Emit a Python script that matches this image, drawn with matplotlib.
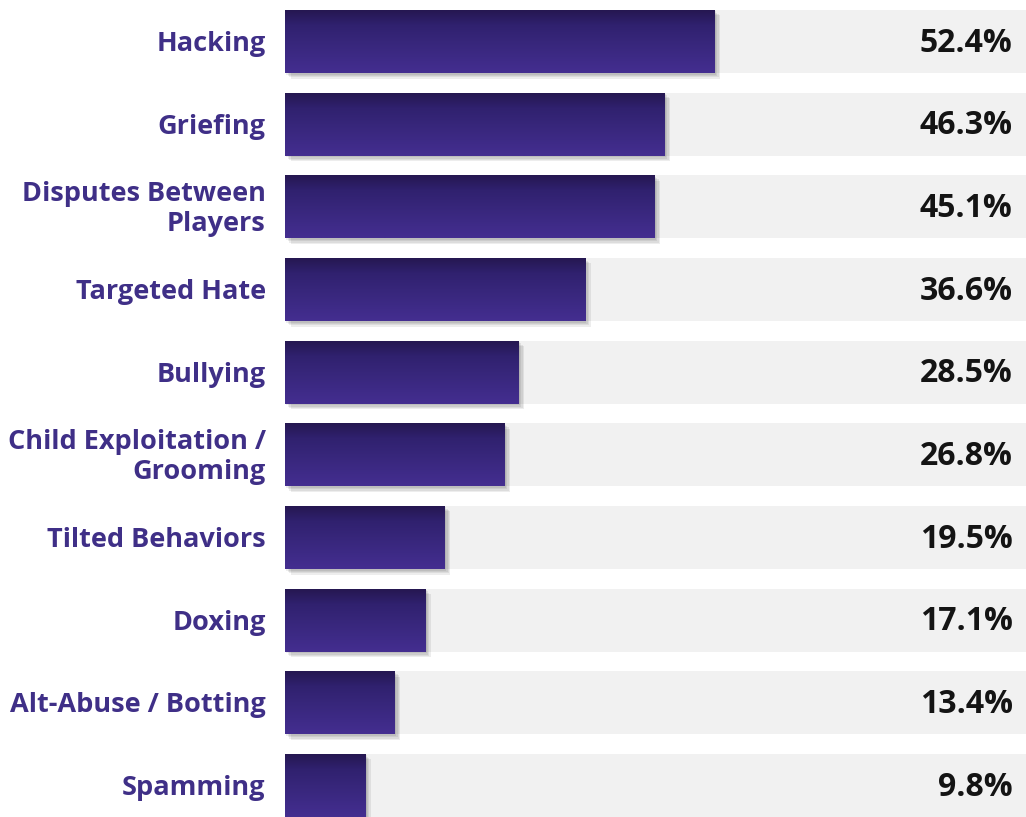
import matplotlib
matplotlib.use("Agg")
import matplotlib.pyplot as plt
import matplotlib.patheffects as pe
import numpy as np
from matplotlib.colors import LinearSegmentedColormap
from matplotlib.patches import Rectangle
from matplotlib.transforms import blended_transform_factory

categories = [
    "Hacking",
    "Griefing",
    "Disputes Between\nPlayers",
    "Targeted Hate",
    "Bullying",
    "Child Exploitation /\nGrooming",
    "Tilted Behaviors",
    "Doxing",
    "Alt-Abuse / Botting",
    "Spamming",
]
values = [52.4, 46.3, 45.1, 36.6, 28.5, 26.8, 19.5, 17.1, 13.4, 9.8]
value_labels = ["52.4%", "46.3%", "45.1%", "36.6%", "28.5%", "26.8%", "19.5%", "17.1%", "13.4%", "9.8%"]

plt.rcParams["font.family"] = ["Open Sans", "DejaVu Sans"]

W, H = 1026, 817
fig = plt.figure(figsize=(W / 100, H / 100), dpi=100)
ax = fig.add_axes([285 / W, 0, (W - 285) / W, 1])

xmax = 90.4
ax.set_xlim(0, xmax)
ax.set_ylim(9.381, -0.502)
ax.axis("off")

bar_h = 0.765
grad = LinearSegmentedColormap.from_list("bar", ["#25174f", "#30216f", "#37267a", "#3d2a85", "#442e90"])
gimg = np.linspace(0, 1, 64).reshape(-1, 1)

# soft drop shadow: a few faint offset copies
shadow = [pe.SimplePatchShadow(offset=(d, -d), shadow_rgbFace="#000000", alpha=0.07) for d in (1, 2, 3, 4)]

label_tr = blended_transform_factory(ax.transAxes, ax.transData)
for i, (cat, v, vl) in enumerate(zip(categories, values, value_labels)):
    top = i - bar_h / 2
    ax.add_patch(Rectangle((0, top), xmax, bar_h, facecolor="#f1f1f1", edgecolor="none", zorder=1))
    bar = Rectangle((0, top), v, bar_h, facecolor="#37267a", edgecolor="none", zorder=2,
                    path_effects=shadow + [pe.Normal()])
    ax.add_patch(bar)
    im = ax.imshow(gimg, cmap=grad, aspect="auto", extent=(0, v, top + bar_h, top),
                   zorder=3, interpolation="bilinear")
    im.set_clip_path(bar)
    ax.text(-0.026, i + 0.03, cat, transform=label_tr, ha="right", va="center",
            fontsize=19.5, fontweight="bold", color="#3f2f87", linespacing=1.2)
    ax.text(0.982, i + 0.02, vl, transform=label_tr, ha="right", va="center",
            fontsize=23, fontweight="bold", color="#141414")

fig.savefig("out.png", dpi=100, facecolor="white")
